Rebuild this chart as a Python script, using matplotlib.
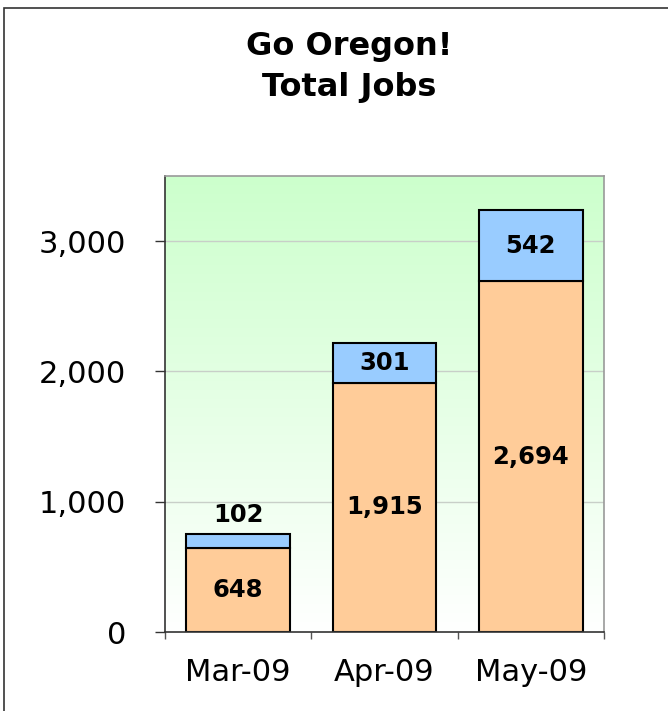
import numpy as np
import matplotlib
matplotlib.use("Agg")
import matplotlib.pyplot as plt
from matplotlib.patches import Rectangle

# chart data
months = ["Mar-09", "Apr-09", "May-09"]
base_jobs = [648, 1915, 2694]
added_jobs = [102, 301, 542]
y_ticks = [0, 1000, 2000, 3000]

plt.rcParams["font.family"] = ["DejaVu Sans"]

fig = plt.figure(figsize=(6.68, 7.11), dpi=100)
fig.patch.set_facecolor("white")

# outer chart border (only top/left visible in the reference)
fig.patches.append(Rectangle((4 / 668, -0.05), 1.1, 1 - 8 / 711 + 0.05,
                             transform=fig.transFigure, fill=False,
                             edgecolor="#333333", linewidth=1.2, zorder=0))

ax = fig.add_axes([165 / 668, 1 - 632 / 711, (604 - 165) / 668, (632 - 176) / 711])

x = np.arange(len(months))
ymax = 3500
ax.set_xlim(-0.5, len(months) - 0.5)

# green (top) -> white (bottom) gradient background
grad = np.linspace(0, 1, 256)[:, None]
top = np.array([204, 255, 204]) / 255
bottom = np.array([255, 255, 255]) / 255
img = top[None, None, :] * (1 - grad[..., None]) + bottom[None, None, :] * grad[..., None]
ax.imshow(img, extent=[-0.5, len(months) - 0.5, 0, ymax], origin="upper",
          aspect="auto", zorder=0)
ax.set_ylim(0, ymax)

for yt in y_ticks[1:]:
    ax.axhline(yt, color="#c8cfc8", linewidth=1.0, zorder=1)

width = 0.71
ax.bar(x, base_jobs, width, color="#ffcc99", edgecolor="black", linewidth=1.5, zorder=2)
ax.bar(x, added_jobs, width, bottom=base_jobs, color="#99ccff",
       edgecolor="black", linewidth=1.5, zorder=2)

lab_kw = dict(ha="center", fontsize=17.5, fontweight="bold", color="black", zorder=3)
for i in range(len(months)):
    ax.text(x[i], base_jobs[i] / 2, f"{base_jobs[i]:,}", va="center", **lab_kw)
    if added_jobs[i] < 200:
        ax.annotate(f"{added_jobs[i]:,}", (x[i], base_jobs[i] + added_jobs[i]),
                    xytext=(0, 5), textcoords="offset points", va="bottom", **lab_kw)
    else:
        ax.text(x[i], base_jobs[i] + added_jobs[i] / 2, f"{added_jobs[i]:,}",
                va="center", **lab_kw)

# axes styling
ax.set_yticks(y_ticks)
ax.set_yticklabels([f"{v:,}" for v in y_ticks])
ax.tick_params(axis="y", length=7, width=1, color="#333333", pad=21, labelsize=22)
ax.set_xticks(x)
ax.set_xticklabels(months)
ax.set_xticks(np.arange(-0.5, len(months)), minor=True)
ax.tick_params(axis="x", which="major", length=0, pad=19, labelsize=22)
ax.tick_params(axis="x", which="minor", length=5, width=1, color="#555555")

for side in ["top", "right"]:
    ax.spines[side].set_color("#999999")
    ax.spines[side].set_linewidth(1.2)
for side in ["left", "bottom"]:
    ax.spines[side].set_color("#333333")
    ax.spines[side].set_linewidth(1.2)

fig.text(349 / 668, 1 - 67 / 711, "Go Oregon!\nTotal Jobs", ha="center", va="center",
         fontsize=23, fontweight="bold", linespacing=1.4)

fig.savefig("out.png", dpi=100, facecolor="white")
